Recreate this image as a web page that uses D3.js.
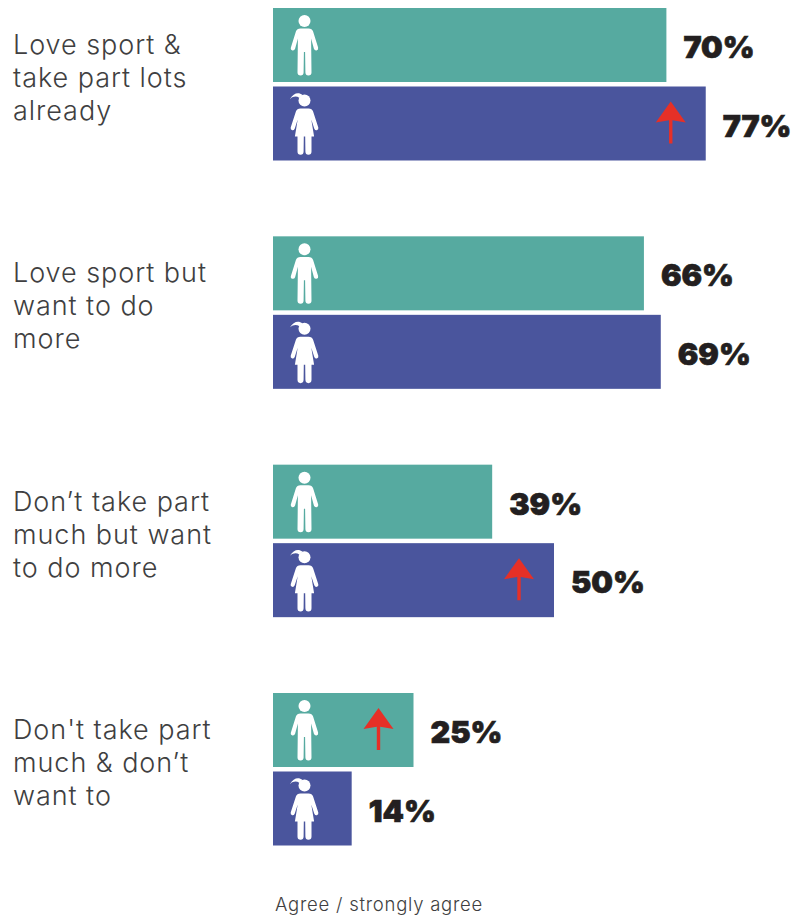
<!DOCTYPE html>
<html>
<head>
<meta charset="utf-8">
<script src="https://cdn.jsdelivr.net/npm/d3@7"></script>
<style>
html,body{margin:0;padding:0;background:#fff;}
svg{display:block;}
.cat{font-family:"Inter","Open Sans",sans-serif;font-weight:300;font-size:27px;letter-spacing:0.95px;fill:#3f3f41;}
.val{font-family:"Inter","DejaVu Sans",sans-serif;font-weight:900;font-size:30.5px;fill:#231f20;stroke:#231f20;stroke-width:0.7px;}
.foot{font-family:"Inter","Open Sans",sans-serif;font-weight:300;font-size:18.5px;letter-spacing:0.75px;fill:#3f3f41;}
</style>
</head>
<body>
<svg id="chart" width="803" height="915"></svg>
<script>
// Share agreeing with each statement, by boys and girls
const categories = [
  ["Love sport &", "take part lots", "already"],
  ["Love sport but", "want to do", "more"],
  ["Don’t take part", "much but want", "to do more"],
  ["Don't take part", "much & don’t", "want to"]
];
const boys = [70, 66, 39, 25];
const girls = [77, 69, 50, 14];
const boysRising = [false, false, false, true];
const girlsRising = [true, false, true, false];
const footnote = "Agree / strongly agree";

const teal = "#56aaa0", indigo = "#4a559d", red = "#e63027";
const barH = 74;

const svg = d3.select("#chart");
const x = d3.scaleLinear().domain([0, 100]).range([273, 835]);
const groupY = d3.scalePoint().domain(d3.range(categories.length)).range([8, 693]);
const rowY = d3.scalePoint().domain(["boy", "girl"]).range([0, 78.5]);

// Pictogram outlines, drawn around a local origin at the head centre
const boyIcon = "M-4 7.6 L4 7.6 Q7.6 7.6 8.6 10.6 L13.6 26.6 Q14.2 29 12 29.5 Q10.2 29.8 9.4 27.8 L6.6 17.5 L7 51.5 Q7 54.5 3.9 54.5 Q1 54.5 0.9 51.5 L0.6 31 L-0.6 31 L-0.9 51.5 Q-1 54.5 -3.9 54.5 Q-7 54.5 -7 51.5 L-6.6 17.5 L-9.4 27.8 Q-10.2 29.8 -12 29.5 Q-14.2 29 -13.6 26.6 L-8.6 10.6 Q-7.6 7.6 -4 7.6 Z";
const girlIcon = "M-4 8 L4 8 Q7.6 8 8.6 11 L13.8 27 Q14.3 29.2 12.3 29.7 Q10.6 30 9.8 28.2 L6.8 19 L9.6 36 L7 36 L7 51 Q7 54.3 3.9 54.3 Q1 54.3 0.9 51 L0.7 36 L-0.7 36 L-0.9 51 Q-1 54.3 -3.9 54.3 Q-7 54.3 -7 51 L-7 36 L-9.6 36 L-6.8 19 L-9.8 28.2 Q-10.6 30 -12.3 29.7 Q-14.3 29.2 -13.8 27 L-8.6 11 Q-7.6 8 -4 8 Z";
const ponytail = "M-2 -5.5 C-6 -8.5 -11 -7.5 -14.5 -1.5 C-11 -4.5 -8 -4.5 -5 -2.5 Z";
const arrowIcon = "M0 0 L15 21 L1.7 18.8 L1.7 42 L-1.7 42 L-1.7 18.8 L-15 21 Z";

const rows = categories.flatMap((c, i) => [
  {group: i, who: "boy", value: boys[i], rising: boysRising[i]},
  {group: i, who: "girl", value: girls[i], rising: girlsRising[i]}
]);
const rowTop = d => groupY(d.group) + rowY(d.who);

svg.append("g").selectAll("rect").data(rows).join("rect")
  .attr("x", x(0))
  .attr("y", rowTop)
  .attr("width", d => x(d.value) - x(0))
  .attr("height", barH)
  .attr("fill", d => d.who === "boy" ? teal : indigo);

const icons = svg.append("g").selectAll("g").data(rows).join("g")
  .attr("transform", d => `translate(${x(0) + 31.5},${rowTop(d) + (d.who === "boy" ? 13 : 14)})`)
  .attr("fill", "#fff");
icons.append("circle").attr("r", 6);
icons.append("path").attr("d", d => d.who === "boy" ? boyIcon : girlIcon);
icons.filter(d => d.who === "girl").append("path").attr("d", ponytail);

svg.append("g").selectAll("path").data(rows.filter(d => d.rising)).join("path")
  .attr("d", arrowIcon)
  .attr("fill", red)
  .attr("transform", d => `translate(${x(d.value) - 35},${rowTop(d) + 15})`);

svg.append("g").selectAll("text").data(rows).join("text")
  .attr("class", "val")
  .attr("x", d => x(d.value) + 17)
  .attr("y", d => rowTop(d) + 50)
  .text(d => d.value + "%");

svg.append("g").selectAll("g").data(categories).join("g")
  .attr("transform", (d, i) => `translate(13,${groupY(i) + 46})`)
  .selectAll("text").data(d => d).join("text")
  .attr("class", "cat")
  .attr("y", (d, i) => i * 33)
  .text(d => d);

svg.append("text").attr("class", "foot").attr("x", 275).attr("y", 911).text(footnote);
</script>
</body>
</html>
